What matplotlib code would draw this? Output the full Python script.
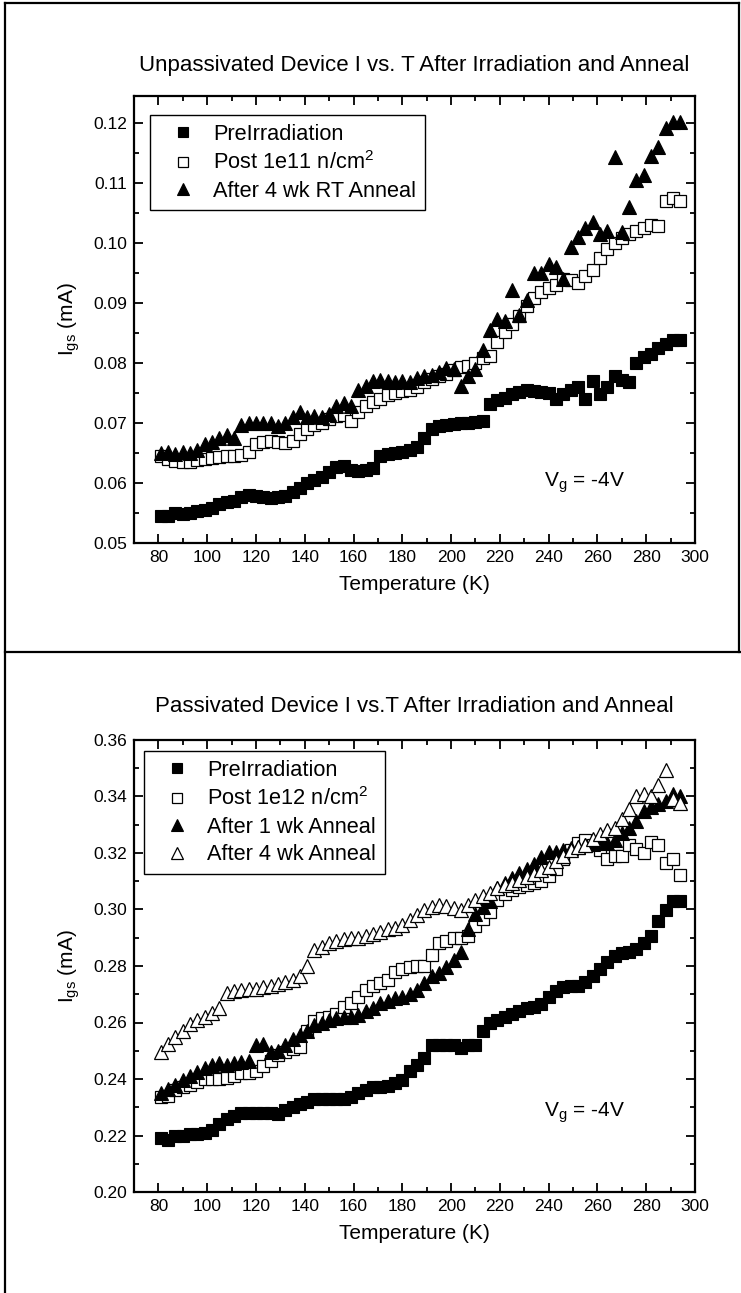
import matplotlib
matplotlib.use("Agg")
import matplotlib.pyplot as plt
from matplotlib.lines import Line2D
from matplotlib.ticker import MultipleLocator, FormatStrFormatter

plt.rcParams['font.family'] = ['Liberation Sans', 'DejaVu Sans']
plt.rcParams['mathtext.default'] = 'regular'

# ---------------- data ----------------
temp_top = [81, 84, 87, 90, 93, 96, 99, 102, 105, 108, 111, 114, 117, 120, 123, 126, 129, 132,
            135, 138, 141, 144, 147, 150, 153, 156, 159, 162, 165, 168, 171, 174, 177, 180,
            183, 186, 189, 192, 195, 198, 201, 204, 207, 210, 213, 216, 219, 222, 225, 228,
            231, 234, 237, 240, 243, 246, 249, 252, 255, 258, 261, 264, 267, 270, 273, 276,
            279, 282, 285, 288, 291, 294]

top_preirr = [.0545, .0545, .0550, .0548, .0550, .0553, .0555, .0558, .0565, .0568, .0570, .0577,
              .0580, .0578, .0576, .0575, .0576, .0578, .0585, .0592, .0600, .0605, .0610, .0618,
              .0627, .0628, .0622, .0620, .0622, .0625, .0645, .0648, .0650, .0652, .0655, .0660,
              .0675, .0690, .0695, .0697, .0698, .0700, .0700, .0702, .0704, .0732, .0738, .0742,
              .0748, .0752, .0755, .0753, .0752, .0750, .0740, .0748, .0755, .0760, .0740, .0770,
              .0748, .0760, .0778, .0772, .0768, .0800, .0810, .0815, .0825, .0832, .0838, .0838]

top_post = [.0645, .0640, .0637, .0635, .0635, .0638, .0640, .0642, .0643, .0645, .0645, .0646,
            .0652, .0665, .0668, .0670, .0668, .0667, .0670, .0682, .0690, .0697, .0700, .0707,
            .0712, .0713, .0703, .0718, .0728, .0735, .0740, .0747, .0750, .0753, .0755, .0760,
            .0768, .0773, .0778, .0782, .0788, .0793, .0795, .0800, .0808, .0812, .0835, .0852,
            .0865, .0878, .0895, .0908, .0918, .0925, .0930, .0940, .0938, .0933, .0945, .0955,
            .0975, .0990, .1000, .1008, .1015, .1020, .1025, .1030, .1028, .1070, .1075, .1070]

top_anneal = [.0650, .0652, .0648, .0652, .0650, .0655, .0665, .0668, .0675, .0680, .0675, .0697,
              .0700, .0700, .0700, .0700, .0695, .0700, .0710, .0718, .0710, .0712, .0710, .0715,
              .0728, .0733, .0728, .0755, .0762, .0770, .0772, .0770, .0768, .0770, .0768, .0775,
              .0778, .0780, .0785, .0792, .0790, .0762, .0778, .0790, .0822, .0855, .0873, .0870,
              .0922, .0880, .0905, .0950, .0950, .0965, .0960, .0940, .0993, .1010, .1025, .1035,
              .1015, .1020, .1143, .1018, .1060, .1105, .1113, .1145, .1160, .1192, .1202, .1202]

temp_bot = temp_top

bot_preirr = [.2190, .2185, .2200, .2200, .2205, .2205, .2210, .2220, .2240, .2260, .2270, .2280,
              .2280, .2280, .2280, .2278, .2275, .2290, .2300, .2310, .2320, .2330, .2330, .2330,
              .2330, .2330, .2335, .2350, .2360, .2370, .2370, .2375, .2385, .2395, .2430, .2450,
              .2475, .2520, .2520, .2520, .2520, .2510, .2520, .2520, .2570, .2600, .2610, .2620,
              .2630, .2640, .2650, .2655, .2665, .2690, .2710, .2725, .2730, .2730, .2745, .2765,
              .2790, .2815, .2835, .2845, .2850, .2860, .2880, .2905, .2960, .3000, .3030, .3030]

bot_post = [.2335, .2340, .2360, .2370, .2380, .2390, .2400, .2400, .2400, .2405, .2410, .2420,
            .2420, .2430, .2445, .2465, .2485, .2495, .2505, .2515, .2570, .2605, .2615, .2620,
            .2630, .2655, .2670, .2690, .2715, .2730, .2740, .2750, .2780, .2790, .2798, .2800,
            .2800, .2840, .2880, .2890, .2898, .2900, .2905, .2940, .2965, .2990, .3035, .3055,
            .3070, .3080, .3085, .3095, .3100, .3120, .3145, .3180, .3210, .3235, .3245, .3230,
            .3210, .3180, .3190, .3188, .3230, .3215, .3200, .3240, .3228, .3165, .3180, .3122]

bot_wk1 = [.2350, .2365, .2380, .2395, .2410, .2425, .2440, .2450, .2455, .2450, .2455, .2460,
           .2465, .2520, .2525, .2495, .2500, .2520, .2540, .2555, .2570, .2590, .2600, .2610,
           .2615, .2620, .2620, .2625, .2640, .2650, .2670, .2675, .2685, .2690, .2700, .2715,
           .2740, .2765, .2775, .2795, .2820, .2850, .2930, .2985, .3010, .3030, .3075, .3095,
           .3110, .3130, .3145, .3160, .3185, .3205, .3205, .3212, .3218, .3222, .3230, .3232,
           .3235, .3234, .3245, .3270, .3290, .3315, .3350, .3362, .3372, .3385, .3410, .3400]

bot_wk4 = [.2495, .2525, .2550, .2570, .2595, .2610, .2620, .2635, .2650, .2705, .2712, .2715,
           .2718, .2720, .2725, .2730, .2735, .2745, .2750, .2765, .2800, .2855, .2868, .2880,
           .2890, .2895, .2900, .2900, .2905, .2912, .2920, .2930, .2935, .2945, .2963, .2980,
           .3000, .3010, .3015, .3012, .3005, .2998, .3015, .3035, .3048, .3058, .3075, .3088,
           .3095, .3105, .3115, .3125, .3140, .3152, .3170, .3190, .3210, .3222, .3230, .3250,
           .3268, .3280, .3290, .3320, .3355, .3400, .3410, .3400, .3440, .3494, .3390, .3376]

top_labels = ["PreIrradiation", "Post 1e11 n/cm$^{2}$", "After 4 wk RT Anneal"]
bot_labels = ["PreIrradiation", "Post 1e12 n/cm$^{2}$", "After 1 wk Anneal", "After 4 wk Anneal"]
top_title = "Unpassivated Device I vs. T After Irradiation and Anneal"
bot_title = "Passivated Device I vs.T After Irradiation and Anneal"
x_ticks = [80, 100, 120, 140, 160, 180, 200, 220, 240, 260, 280, 300]

# ---------------- figure ----------------
W, H = 741, 1293
fig = plt.figure(figsize=(W / 100, H / 100), dpi=100)

def fx(px):
    return px / W

def fy(py):
    return 1 - py / H

ax_l, ax_r = 134, 695
ax1 = fig.add_axes([fx(ax_l), fy(543), fx(ax_r) - fx(ax_l), fy(96) - fy(543)])
ax2 = fig.add_axes([fx(ax_l), fy(1192), fx(ax_r) - fx(ax_l), fy(740) - fy(1192)])

ms = 9
sq_f = dict(marker='s', ls='none', ms=ms, mfc='black', mec='black', mew=0.8)
sq_o = dict(marker='s', ls='none', ms=ms, mfc='white', mec='black', mew=0.9)
tr_f = dict(marker='^', ls='none', ms=ms + 1, mfc='black', mec='black', mew=0.8)
tr_o = dict(marker='^', ls='none', ms=ms + 1, mfc='white', mec='black', mew=0.9)

ax1.plot(temp_top, top_preirr, label=top_labels[0], **sq_f)
ax1.plot(temp_top, top_post, label=top_labels[1], **sq_o)
ax1.plot(temp_top, top_anneal, label=top_labels[2], **tr_f)

ax2.plot(temp_bot, bot_preirr, label=bot_labels[0], **sq_f)
ax2.plot(temp_bot, bot_post, label=bot_labels[1], **sq_o)
ax2.plot(temp_bot, bot_wk1, label=bot_labels[2], **tr_f)
ax2.plot(temp_bot, bot_wk4, label=bot_labels[3], **tr_o)

ax1.set_ylim(0.05, 0.1245)
ax2.set_ylim(0.20, 0.36)
ax1.yaxis.set_major_locator(MultipleLocator(0.01))
ax1.yaxis.set_minor_locator(MultipleLocator(0.005))
ax2.yaxis.set_major_locator(MultipleLocator(0.02))
ax2.yaxis.set_minor_locator(MultipleLocator(0.01))

for ax in (ax1, ax2):
    ax.yaxis.set_major_formatter(FormatStrFormatter('%.2f'))
    ax.set_xlim(70, 300)
    ax.set_xticks(x_ticks)
    ax.xaxis.set_minor_locator(MultipleLocator(10))
    ax.tick_params(which='both', direction='in', top=True, right=True,
                   labelsize=12.5, width=1.3, pad=5)
    ax.tick_params(which='major', length=6.5)
    ax.tick_params(which='minor', length=3.5)
    for s in ax.spines.values():
        s.set_linewidth(1.6)
    ax.set_xlabel("Temperature (K)", fontsize=15, labelpad=7)
    ax.set_ylabel("I$_{gs}$ (mA)", fontsize=15, labelpad=8)

leg_kw = dict(loc='upper left', fontsize=15.7, frameon=True, fancybox=False, shadow=False,
              edgecolor='black', framealpha=1, borderpad=0.4, labelspacing=0.3,
              handletextpad=0.3, handlelength=2.2, borderaxespad=0, markerscale=0.8)
l1 = ax1.legend(bbox_to_anchor=(0.0285, 0.9575), **leg_kw)
l2 = ax2.legend(bbox_to_anchor=(0.018, 0.9757), **leg_kw)
for lg in (l1, l2):
    lg.get_frame().set_linewidth(1.0)

ax1.text(238, 0.060, "V$_g$ = -4V", fontsize=15, ha='left', va='center')
ax2.text(238, 0.228, "V$_g$ = -4V", fontsize=15, ha='left', va='center')

xc = (fx(ax_l) + fx(ax_r)) / 2
fig.text(xc, fy(65), top_title, fontsize=16, ha='center', va='center')
fig.text(xc, fy(706), bot_title, fontsize=16, ha='center', va='center')

# page frame lines
lw = 1.6
fig.add_artist(Line2D([fx(5), fx(5)], [0, fy(3)], color='black', lw=lw))
fig.add_artist(Line2D([fx(5), fx(739)], [fy(3), fy(3)], color='black', lw=lw))
fig.add_artist(Line2D([fx(739), fx(739)], [fy(652), fy(3)], color='black', lw=lw))
fig.add_artist(Line2D([fx(5), 1.0], [fy(652), fy(652)], color='black', lw=lw))

fig.savefig("out.png", dpi=100)
